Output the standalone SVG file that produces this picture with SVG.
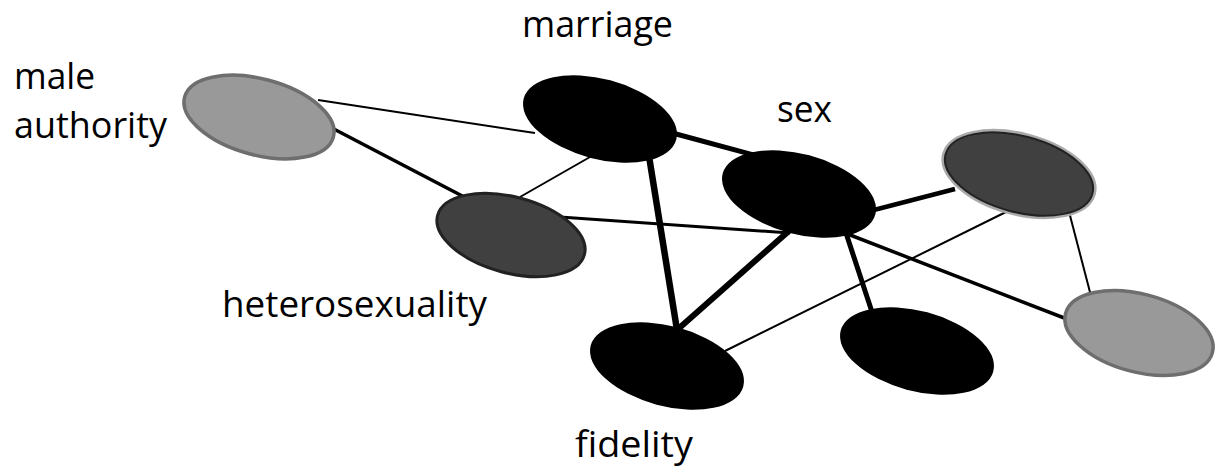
<svg xmlns="http://www.w3.org/2000/svg" width="1221" height="468" viewBox="0 0 1221 468">
<style>
.lbl{font-family:"Open Sans","Liberation Sans",sans-serif;font-size:36px;fill:#000}
.e{stroke:none}
.blk{fill:#000}
.dk{fill:#404040;stroke:#222;stroke-width:3}
.lt{fill:#999;stroke:#6e6e6e;stroke-width:3.5}
.c{stroke:#000;fill:none;stroke-linecap:butt}
</style>
<rect width="1221" height="468" fill="#fff"/>
<g id="connectors">
<line class="c" x1="318" y1="100" x2="535" y2="133" stroke-width="2"/>
<line class="c" x1="330" y1="127" x2="470" y2="200" stroke-width="3.5"/>
<line class="c" x1="520" y1="197" x2="590" y2="157" stroke-width="2"/>
<line class="c" x1="665" y1="131" x2="765" y2="158" stroke-width="5"/>
<line class="c" x1="648" y1="150" x2="677" y2="330" stroke-width="6.5"/>
<line class="c" x1="560" y1="217" x2="790" y2="233" stroke-width="3"/>
<line class="c" x1="790" y1="230" x2="677" y2="330" stroke-width="6"/>
<line class="c" x1="870" y1="211" x2="955" y2="189" stroke-width="4.5"/>
<line class="c" x1="845" y1="230" x2="873" y2="315" stroke-width="5"/>
<line class="c" x1="845" y1="233" x2="1072" y2="321" stroke-width="3.5"/>
<line class="c" x1="725" y1="351" x2="1012" y2="209" stroke-width="2"/>
<line class="c" x1="1067" y1="204" x2="1091" y2="296" stroke-width="2"/>
</g>
<g id="male-authority">
<ellipse class="lt" cx="259" cy="117" rx="77" ry="38" transform="rotate(15 259 117)"/>
<text class="lbl" x="14" y="89" textLength="81" lengthAdjust="spacingAndGlyphs">male</text>
<text class="lbl" x="14" y="138" textLength="153" lengthAdjust="spacingAndGlyphs">authority</text>
</g>
<g id="marriage">
<ellipse class="e blk" cx="600" cy="119" rx="79" ry="40" transform="rotate(15 600 119)"/>
<text class="lbl" x="522" y="37" textLength="151" lengthAdjust="spacingAndGlyphs">marriage</text>
</g>
<g id="sex">
<ellipse class="e blk" cx="799" cy="194" rx="79" ry="40" transform="rotate(15 799 194)"/>
<text class="lbl" x="777" y="122" textLength="55" lengthAdjust="spacingAndGlyphs">sex</text>
</g>
<g id="heterosexuality">
<ellipse class="dk" cx="511" cy="235" rx="76" ry="38" transform="rotate(15 511 235)"/>
<text class="lbl" x="222" y="317" textLength="265" lengthAdjust="spacingAndGlyphs">heterosexuality</text>
</g>
<g id="node-right-top">
<ellipse cx="1019" cy="174" rx="78" ry="40" transform="rotate(15 1019 174)" fill="none" stroke="#aaa" stroke-width="3"/>
<ellipse class="dk" cx="1019" cy="174" rx="76" ry="38" transform="rotate(15 1019 174)" style="stroke-width:2"/>
</g>
<g id="node-right-bottom">
<ellipse class="lt" cx="1139" cy="333" rx="76" ry="39" transform="rotate(15 1139 333)"/>
</g>
<g id="fidelity">
<ellipse class="e blk" cx="667" cy="366" rx="79" ry="40" transform="rotate(15 667 366)"/>
<text class="lbl" x="575" y="457" textLength="118" lengthAdjust="spacingAndGlyphs">fidelity</text>
</g>
<g id="node-bottom-middle">
<ellipse class="e blk" cx="917" cy="351" rx="79" ry="40" transform="rotate(15 917 351)"/>
</g>
</svg>
